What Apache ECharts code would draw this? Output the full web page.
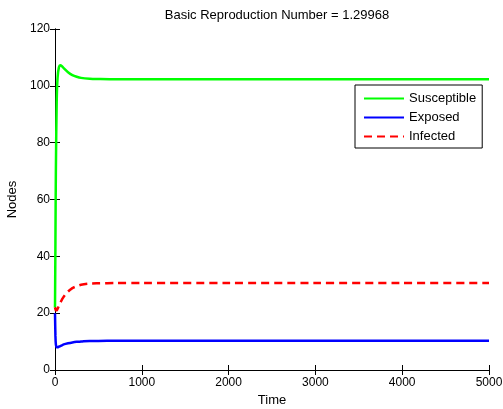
<!DOCTYPE html>
<html><head><meta charset="utf-8">
<script src="https://cdn.jsdelivr.net/npm/echarts@6/dist/echarts.min.js"></script>
<style>html,body{margin:0;padding:0;background:#fff}#c{width:503px;height:409px}</style>
</head><body><div id="c"></div>
<script>
const times = [0, 5, 10, 20, 30, 45, 60, 80, 100, 150, 200, 250, 300, 400, 500, 700, 1000, 2000, 3000, 4000, 5000];
const susceptible = [22, 45, 70, 95, 103, 106.5, 107.2, 106.9, 106.2, 104.8, 103.8, 103.2, 102.8, 102.5, 102.4, 102.3, 102.3, 102.3, 102.3, 102.3, 102.3];
const exposed = [20, 12, 9, 8, 8, 8.2, 8.4, 8.7, 9.0, 9.4, 9.7, 9.9, 10.0, 10.2, 10.2, 10.3, 10.3, 10.3, 10.3, 10.3, 10.3];
const infected = [22, 21.5, 21, 21, 21.6, 22.6, 23.6, 24.8, 25.8, 27.6, 28.8, 29.5, 30, 30.4, 30.5, 30.6, 30.6, 30.6, 30.6, 30.6, 30.6];
const xTicks = [0, 1000, 2000, 3000, 4000, 5000];
const yTicks = [0, 20, 40, 60, 80, 100, 120];

const pair = arr => times.map((t, i) => [t, arr[i]]);
const font = 'Liberation Sans, Arial, sans-serif';
const chart = echarts.init(document.getElementById('c'), null, {renderer: 'canvas'});
const axisCommon = {
  axisLine: {show: true, lineStyle: {color: '#000', width: 1}},
  axisTick: {show: true, inside: true, length: 5, lineStyle: {color: '#000'}},
  splitLine: {show: false}
};
chart.setOption({
  animation: false,
  backgroundColor: '#fff',
  title: {text: 'Basic Reproduction Number = 1.29968', left: 272, top: 4, textAlign: 'center',
    textStyle: {fontFamily: font, fontSize: 13, fontWeight: 'normal', color: '#000'}},
  grid: {left: 55, right: 14, top: 29, bottom: 39, outerBoundsMode: 'none', containLabel: false},
  legend: {
    orient: 'vertical', left: 355, top: 85,
    backgroundColor: '#fff', borderColor: '#000', borderWidth: 1, borderRadius: 0,
    padding: [7, 6, 5, 8], itemGap: 6, itemWidth: 40, itemHeight: 13,
    itemStyle: {opacity: 0},
    textStyle: {fontFamily: font, fontSize: 13, color: '#000'},
    data: ['Susceptible', 'Exposed', 'Infected']
  },
  xAxis: [
    Object.assign({type: 'value', min: 0, max: 5000, interval: 1000, name: 'Time', nameLocation: 'middle', nameGap: 22,
      nameTextStyle: {fontFamily: font, fontSize: 13, color: '#000'},
      axisLabel: {fontFamily: font, fontSize: 12, color: '#000', margin: 7,
        formatter: v => xTicks.includes(v) ? String(v) : ''}}, axisCommon),
    Object.assign({type: 'value', min: 0, max: 5000, interval: 1000, position: 'top', axisLabel: {show: false}}, axisCommon)
  ],
  yAxis: [
    Object.assign({type: 'value', min: 0, max: 120, interval: 20, name: 'Nodes', nameLocation: 'middle', nameGap: 33,
      nameTextStyle: {fontFamily: font, fontSize: 13, color: '#000'},
      axisLabel: {fontFamily: font, fontSize: 12, color: '#000', margin: 5,
        formatter: v => yTicks.includes(v) ? String(v) : ''}}, axisCommon),
    Object.assign({type: 'value', min: 0, max: 120, interval: 20, position: 'right', axisLabel: {show: false}}, axisCommon)
  ],
  series: [
    {name: 'Susceptible', type: 'line', data: pair(susceptible), showSymbol: false, symbol: 'none', smooth: 0.3,
      lineStyle: {color: '#00ff00', width: 2.5}, itemStyle: {color: '#00ff00'}},
    {name: 'Exposed', type: 'line', data: pair(exposed), showSymbol: false, symbol: 'none', smooth: 0.3,
      lineStyle: {color: '#0000ff', width: 2.5}, itemStyle: {color: '#0000ff'}},
    {name: 'Infected', type: 'line', data: pair(infected), showSymbol: false, symbol: 'none', smooth: 0.3,
      lineStyle: {color: '#ff0000', width: 2.5, type: [8, 5]}, itemStyle: {color: '#ff0000'}}
  ]
});
</script></body></html>
